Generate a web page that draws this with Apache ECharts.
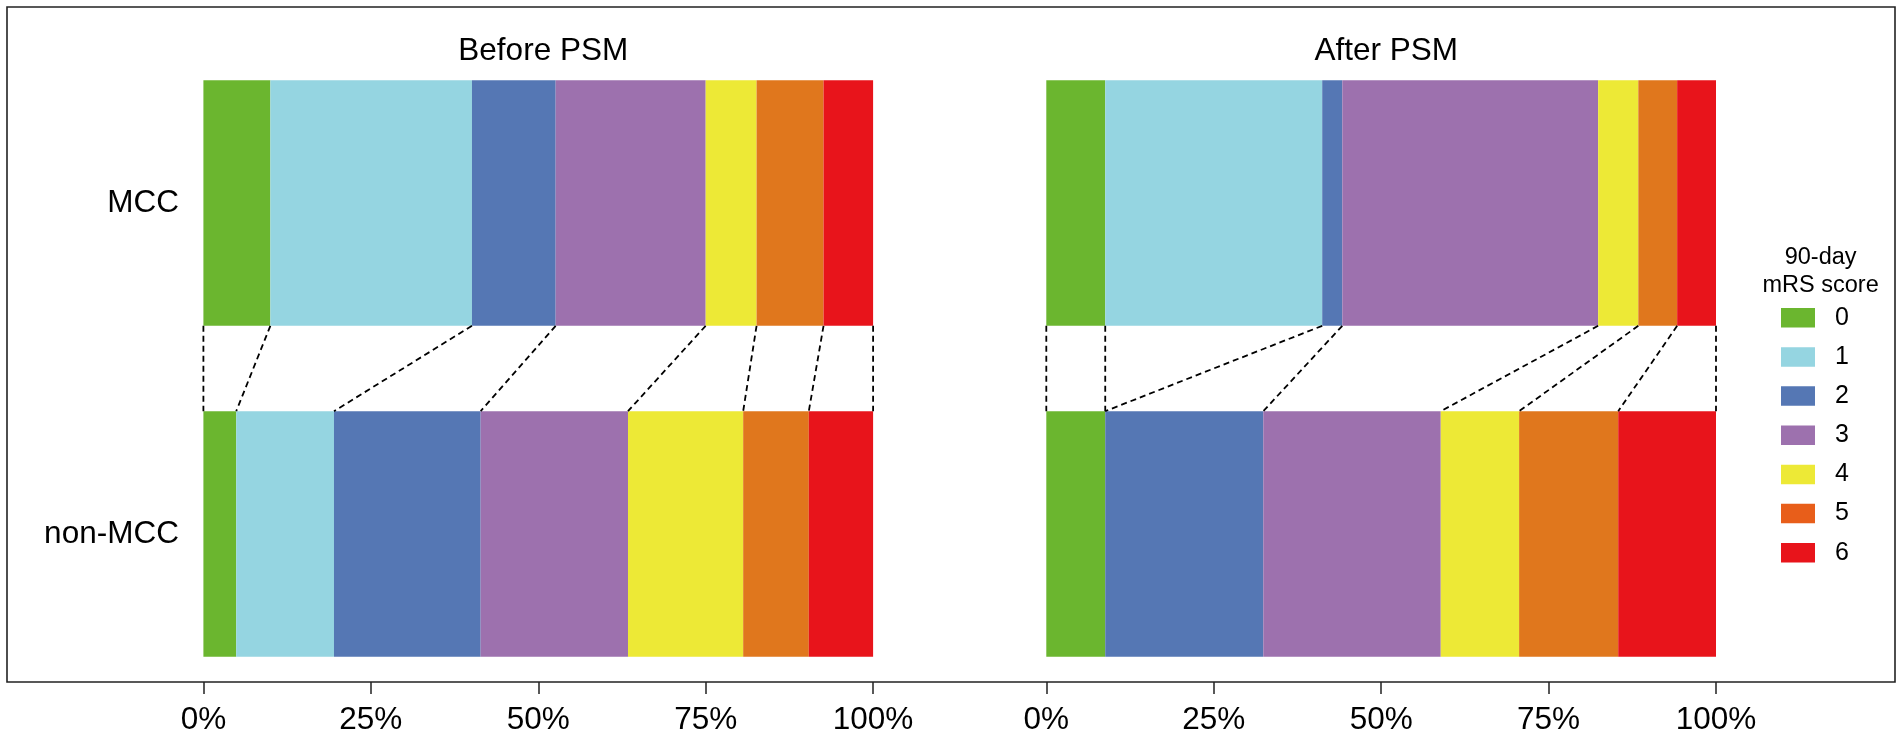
<!DOCTYPE html>
<html>
<head>
<meta charset="utf-8">
<script src="https://cdn.jsdelivr.net/npm/echarts@6/dist/echarts.min.js"></script>
<style>
html,body{margin:0;padding:0;background:#fff;}
#chart{width:1902px;height:740px;}
</style>
</head>
<body>
<div id="chart"></div>
<script>
// ---- data ----
const groups = ['MCC', 'non-MCC'];
const scores = ['0', '1', '2', '3', '4', '5', '6'];
const panelTitles = ['Before PSM', 'After PSM'];
const xTicks = [0, 25, 50, 75, 100];
// percentages per mRS score (0..6)
const beforeMCC    = [10.0, 30.1, 12.5, 22.4, 7.6, 10.0, 7.4];
const beforeNonMCC = [4.9, 14.6, 21.9, 22.0, 17.2, 9.8, 9.6];
const afterMCC     = [8.8, 32.4, 3.0, 38.2, 6.0, 5.8, 5.8];
const afterNonMCC  = [8.8, 0.0, 23.6, 26.5, 11.7, 14.8, 14.6];
const legendTitle = '90-day\nmRS score';

// ---- styles ----
const colors = ['#6bb62f', '#95d5e1', '#5577b4', '#9d71ae', '#ede936', '#e0771d', '#e8141b'];
const legendColors = ['#6bb62f', '#95d5e1', '#5577b4', '#9d71ae', '#ede936', '#e85e1a', '#e8141b'];
const FONT = "'Liberation Sans', Arial, sans-serif";
const BAR_FRAC = 0.742;

function cumulative(arr) {
  const out = [0];
  let s = 0;
  arr.forEach(v => { s += v; out.push(s); });
  out[out.length - 1] = 100;
  return out;
}

const panels = [
  { mcc: beforeMCC, non: beforeNonMCC },
  { mcc: afterMCC, non: afterNonMCC }
];

const grids = [
  { left: 203.4, width: 669.7, top: 37.5, height: 662 },
  { left: 1046.3, width: 669.7, top: 37.5, height: 662 }
];

const xAxes = grids.map((g, i) => ({
  type: 'value', gridIndex: i, min: xTicks[0], max: xTicks[xTicks.length - 1], interval: 25,
  offset: -17.5,
  axisLine: { show: false },
  axisTick: { show: true, length: 12, lineStyle: { color: '#222', width: 1.5 } },
  splitLine: { show: false },
  axisLabel: { formatter: v => v + '%', fontSize: 31.5, color: '#000', fontFamily: FONT, margin: 22 }
}));

const yAxes = grids.map((g, i) => ({
  type: 'category', gridIndex: i, data: groups, inverse: true,
  axisLine: { show: false }, axisTick: { show: false }, splitLine: { show: false },
  axisLabel: { show: i === 0, fontSize: 31.5, color: '#000', fontFamily: FONT, margin: 24.5 }
}));

const series = [];
panels.forEach((p, pi) => {
  scores.forEach((s, si) => {
    series.push({
      name: s, type: 'bar', stack: 'p' + pi,
      xAxisIndex: pi, yAxisIndex: pi,
      barWidth: (BAR_FRAC * 100) + '%',
      itemStyle: { color: colors[si] },
      emphasis: { disabled: true },
      data: [p.mcc[si], p.non[si]]
    });
  });
  const cm = cumulative(p.mcc), cn = cumulative(p.non);
  const linkData = cm.map((v, k) => [v, 0, cn[k], 1]);
  series.push({
    type: 'custom', xAxisIndex: pi, yAxisIndex: pi,
    encode: { x: [0, 2], y: [1, 3] },
    silent: true, z: 5,
    data: linkData,
    renderItem: function (params, api) {
      const half = api.size([0, 1])[1] * BAR_FRAC / 2;
      const a = api.coord([api.value(0), api.value(1)]);
      const b = api.coord([api.value(2), api.value(3)]);
      return {
        type: 'line',
        shape: { x1: a[0], y1: a[1] + half, x2: b[0], y2: b[1] - half },
        style: { stroke: '#000', lineWidth: 1.8, lineDash: [6, 4], fill: null }
      };
    }
  });
});

const option = {
  backgroundColor: '#fff',
  animation: false,
  textStyle: { fontFamily: FONT },
  title: [
    { text: panelTitles[0], left: 538.25, top: 30, textAlign: 'center',
      textStyle: { fontSize: 31.5, fontWeight: 'normal', color: '#000', fontFamily: FONT } },
    { text: panelTitles[1], left: 1381.15, top: 30, textAlign: 'center',
      textStyle: { fontSize: 31.5, fontWeight: 'normal', color: '#000', fontFamily: FONT } },
    { text: legendTitle, left: 1815.6, top: 239, textAlign: 'center',
      textStyle: { fontSize: 23.5, lineHeight: 27.7, fontWeight: 'normal', color: '#000', fontFamily: FONT } }
  ],
  legend: {
    orient: 'vertical', left: 1781, top: 305.3, padding: 0,
    itemWidth: 34, itemHeight: 19.5, itemGap: 14.15,
    icon: 'rect', selectedMode: false,
    data: scores.map((s, i) => ({ name: s, itemStyle: { color: legendColors[i] } })),
    textStyle: { fontSize: 25, color: '#000', fontFamily: FONT, padding: [0, 0, 0, 15] }
  },
  graphic: [{
    type: 'rect', shape: { x: 7, y: 7, width: 1888, height: 675 },
    style: { fill: null, stroke: '#222', lineWidth: 1.6 }, silent: true, z: 100
  }],
  grid: grids,
  xAxis: xAxes,
  yAxis: yAxes,
  series: series
};

const chart = echarts.init(document.getElementById('chart'), null, { renderer: 'canvas' });
chart.setOption(option);
</script>
</body>
</html>
